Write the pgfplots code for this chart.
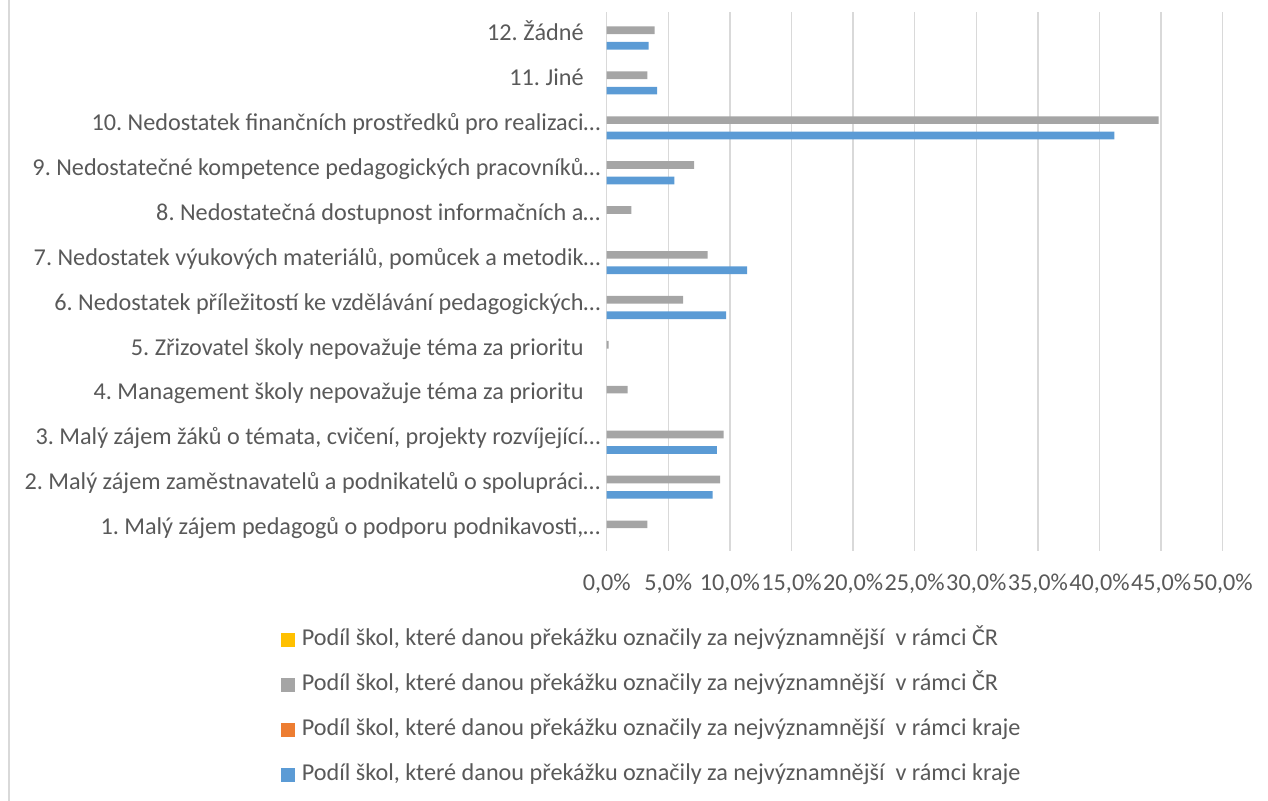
\documentclass[border=0pt]{standalone}
\usepackage{fontspec}
\setmainfont{Carlito}
\usepackage{pgfplots}
\pgfplotsset{compat=1.18}
\definecolor{txt}{HTML}{595959}
\definecolor{gridc}{HTML}{D9D9D9}
\definecolor{grayc}{HTML}{A5A5A5}
\definecolor{bluec}{HTML}{5B9BD5}
\definecolor{orangec}{HTML}{ED7D31}
\definecolor{yellowc}{HTML}{FFC000}
\newcommand{\el}{\rlap{…}}
\frenchspacing
\begin{document}
\begin{tikzpicture}
\useasboundingbox (-303.35pt,-125.15pt) rectangle (330.65pt,275.35pt);
\draw[gridc, line width=1pt] (-298.85pt,-125.15pt) -- (-298.85pt,275.35pt);
\begin{axis}[
    at={(0,0)}, anchor=south west,
    scale only axis, width=308pt, height=269.5pt,
    xmin=0, xmax=50, ymin=0.5, ymax=12.5,
    xtick={0,5,...,50}, ytick={1,...,12},
    yticklabels={
      {1. Malý zájem pedagogů o podporu podnikavosti,\el},
      {2. Malý zájem zaměstnavatelů a podnikatelů o spolupráci\el},
      {3. Malý zájem žáků o témata, cvičení, projekty rozvíjející\el},
      {4. Management školy nepovažuje téma za prioritu},
      {5. Zřizovatel školy nepovažuje téma za prioritu},
      {6. Nedostatek příležitostí ke vzdělávání pedagogických\el},
      {7. Nedostatek výukových materiálů, pomůcek a metodik\el},
      {8. Nedostatečná dostupnost informačních a\el},
      {9. Nedostatečné kompetence pedagogických pracovníků\el},
      {10. Nedostatek finančních prostředků pro realizaci\el},
      {11. Jiné},
      {12. Žádné}},
    axis line style={draw=none}, major tick length=0pt,
    xmajorgrids, grid style={gridc, line width=0.65pt},
    /pgf/number format/assume math mode=true,
    xticklabel={\pgfmathprintnumber[fixed,fixed zerofill,precision=1,use comma]{\tick}\%},
    tick label style={font=\fontsize{12.1}{14}\selectfont, text=txt, inner sep=0pt},
    xticklabel style={anchor=base, yshift=-20pt},
    yticklabel style={anchor=base east, xshift=-11.35pt, yshift=-3.25pt},
    legend style={at={(axis description cs:-0.52873,-0.14527)}, anchor=north west,
      draw=none, fill=none, inner sep=0pt, outer sep=0pt,
      row sep=11.5pt, column sep=3.4pt,
      font=\fontsize{12.1}{14}\selectfont, text=txt,
      nodes={inner sep=0pt, text height=8.5pt, text depth=2.5pt}},
    legend cell align=left,
    legend image code/.code={\fill[#1, draw=none] (0pt,-3.5pt) rectangle (7pt,3.5pt);},
  ]
  \addlegendimage{fill=yellowc}
  \addlegendentry{Podíl škol, které danou překážku označily za nejvýznamnější\ \ v rámci ČR}
  \addplot[xbar, fill=grayc, draw=none, bar width=3.85pt, bar shift=1.925pt, forget plot] coordinates {
    (3.3,1) (9.2,2) (9.5,3) (1.7,4) (0.15,5) (6.2,6)
    (8.2,7) (2.0,8) (7.1,9) (44.8,10) (3.3,11) (3.9,12)};
  \addlegendimage{fill=grayc}
  \addlegendentry{Podíl škol, které danou překážku označily za nejvýznamnější\ \ v rámci ČR}
  \addlegendimage{fill=orangec}
  \addlegendentry{Podíl škol, které danou překážku označily za nejvýznamnější\ \ v rámci kraje}
  \addplot[xbar, fill=bluec, draw=none, bar width=3.85pt, bar shift=-5.775pt, forget plot] coordinates {
    (8.6,2) (8.95,3) (9.7,6)
    (11.4,7) (5.5,9) (41.2,10) (4.1,11) (3.4,12)};
  \addlegendimage{fill=bluec}
  \addlegendentry{Podíl škol, které danou překážku označily za nejvýznamnější\ \ v rámci kraje}
\end{axis}
\end{tikzpicture}
\end{document}
